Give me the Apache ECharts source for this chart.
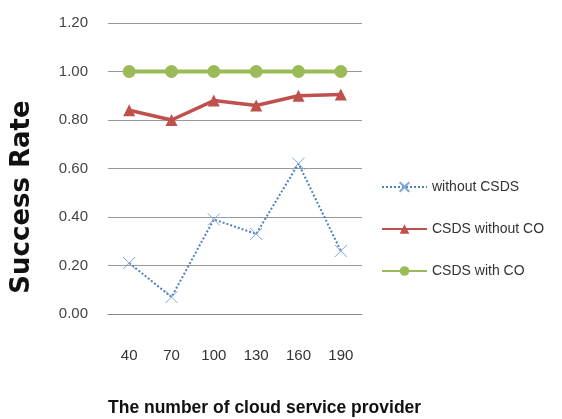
<!DOCTYPE html>
<html>
<head>
<meta charset="utf-8">
<script src="https://cdn.jsdelivr.net/npm/echarts@6/dist/echarts.min.js"></script>
<style>
  html, body { margin: 0; padding: 0; background: #fff; }
  #chart { width: 562px; height: 419px; }
</style>
</head>
<body>
<div id="chart"></div>
<script>
// categories and series values
const providers = ['40', '70', '100', '130', '160', '190'];
const withoutCSDS = [0.21, 0.07, 0.39, 0.33, 0.62, 0.26];
const csdsWithoutCO = [0.84, 0.80, 0.88, 0.86, 0.90, 0.905];
const csdsWithCO = [1.00, 1.00, 1.00, 1.00, 1.00, 1.00];

const myChart = echarts.init(document.querySelector('#chart'));
const crossPath = 'path://M0,0L10,10M10,0L0,10';
const labelFont = 'Liberation Sans Narrow, Liberation Sans';

const option = {
  animation: false,
  backgroundColor: '#fff',
  grid: { left: 108, right: 200, top: 23, bottom: 105 },
  legend: {
    orient: 'vertical',
    left: 376,
    top: 175,
    itemWidth: 45,
    itemHeight: 12,
    itemGap: 28,
    textStyle: { fontFamily: labelFont, fontSize: 14, color: '#333' },
    data: ['without CSDS', 'CSDS without CO', 'CSDS with CO']
  },
  graphic: [
    {
      type: 'text',
      left: 108, top: 399,
      style: { text: 'The number of cloud service provider', font: 'bold 17.5px Liberation Sans', fill: '#111' }
    },
    {
      type: 'text',
      x: 22, y: 197,
      rotation: Math.PI / 2,
      style: { text: 'Success Rate', font: 'bold 26px DejaVu Sans', fill: '#111', align: 'center', verticalAlign: 'middle' }
    }
  ],
  xAxis: {
    type: 'category',
    data: providers,
    boundaryGap: true,
    axisLine: { lineStyle: { color: '#888' } },
    axisTick: { show: false },
    axisLabel: { margin: 34, fontSize: 15, color: '#333', fontFamily: labelFont }
  },
  yAxis: {
    type: 'value',
    min: 0, max: 1.2, interval: 0.2,
    axisLine: { show: false },
    axisTick: { show: false },
    axisLabel: {
      margin: 20, fontSize: 15, color: '#444', fontFamily: labelFont,
      formatter: v => v.toFixed(2)
    },
    splitLine: { lineStyle: { color: '#999' } }
  },
  series: [
    {
      name: 'without CSDS',
      type: 'line',
      data: withoutCSDS,
      symbol: crossPath,
      symbolSize: 12,
      lineStyle: { color: '#4F81BD', width: 2, type: 'dotted' },
      itemStyle: { color: 'rgba(0,0,0,0)', borderColor: '#7FA6D6', borderWidth: 1 }
    },
    {
      name: 'CSDS without CO',
      type: 'line',
      data: csdsWithoutCO,
      symbol: 'triangle',
      symbolSize: 12,
      lineStyle: { color: '#C0504D', width: 3.5 },
      itemStyle: { color: '#C0504D' }
    },
    {
      name: 'CSDS with CO',
      type: 'line',
      data: csdsWithCO,
      symbol: 'circle',
      symbolSize: 13,
      lineStyle: { color: '#9BBB59', width: 4 },
      itemStyle: { color: '#9BBB59' }
    }
  ]
};
myChart.setOption(option);
</script>
</body>
</html>
